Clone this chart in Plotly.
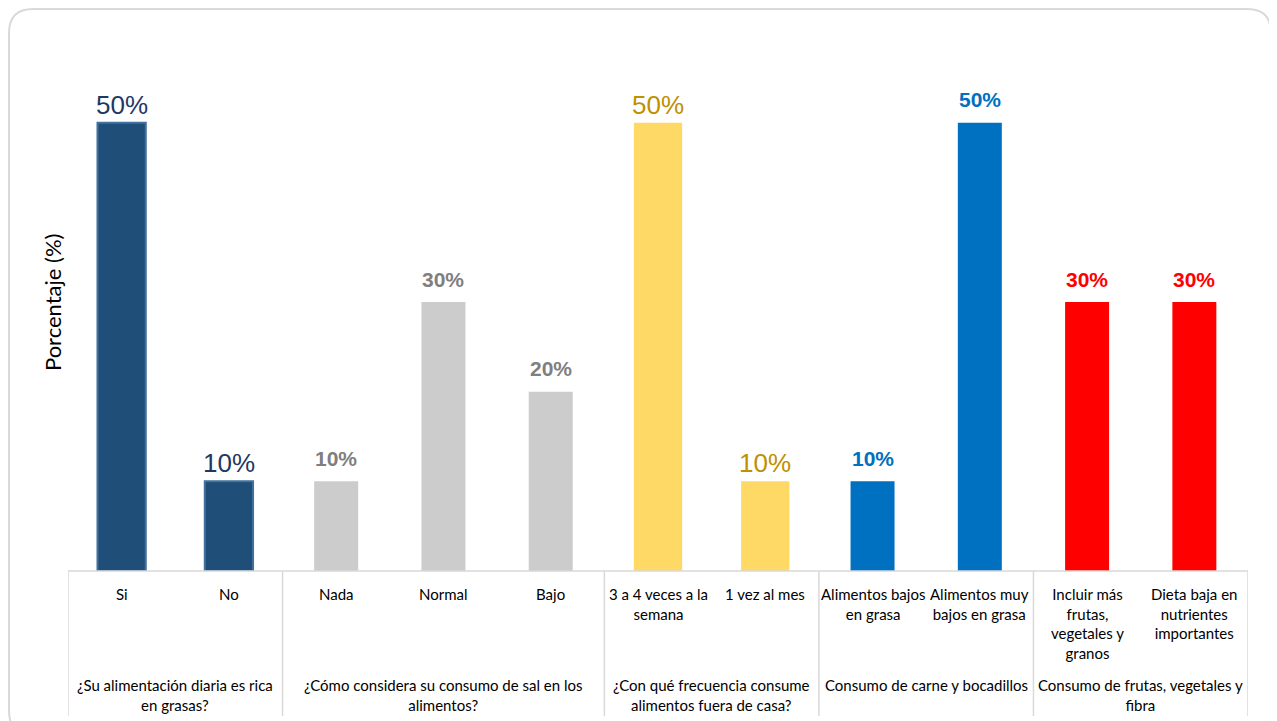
import plotly.graph_objects as go

# ---------------- data ----------------
q1_labels = ["Si", "No"]
q1_values = [50, 10]
q2_labels = ["Nada", "Normal", "Bajo"]
q2_values = [10, 30, 20]
q3_labels = ["3 a 4 veces a la<br>semana", "1 vez al mes"]
q3_values = [50, 10]
q4_labels = ["Alimentos bajos<br>en grasa", "Alimentos muy<br>bajos en grasa"]
q4_values = [10, 50]
q5_labels = ["Incluir más<br>frutas,<br>vegetales y<br>granos", "Dieta baja en<br>nutrientes<br>importantes"]
q5_values = [30, 30]

group_titles = [
    "¿Su alimentación diaria es rica<br>en grasas?",
    "¿Cómo considera su consumo de sal en los<br>alimentos?",
    "¿Con qué frecuencia consume<br>alimentos fuera de casa?",
    "Consumo de carne y bocadillos",
    "Consumo de frutas, vegetales y<br>fibra",
]
y_title = "Porcentaje (%)"

groups_labels = [q1_labels, q2_labels, q3_labels, q4_labels, q5_labels]
groups_values = [q1_values, q2_values, q3_values, q4_values, q5_values]
all_labels = [c for g in groups_labels for c in g]

# ---------------- layout geometry (page offset compensation for body margin) ----------------
OFF = 8
W, H = 1277 - OFF, 721 - OFF
ML, MR, MT, MB = 60, 29, 70, 150
PW, PH = W - ML - MR, H - MT - MB


def X(page_px):
    return (page_px - OFF - ML) / PW


def Y(page_py):
    return (H - MB - (page_py - OFF)) / PH


styles = [
    dict(color="#1F4E79", line="#41719C", lw=2, width=0.45, tcolor="#1F3864", tsize=26, bold=False, shift=18),
    dict(color="#CCCCCC", line="#CCCCCC", lw=0, width=0.41, tcolor="#7F7F7F", tsize=21, bold=True, shift=23),
    dict(color="#FFD966", line="#FFD966", lw=0, width=0.45, tcolor="#BF9000", tsize=26, bold=False, shift=18),
    dict(color="#0070C0", line="#0070C0", lw=0, width=0.41, tcolor="#0070C0", tsize=21, bold=True, shift=23),
    dict(color="#FF0000", line="#FF0000", lw=0, width=0.41, tcolor="#FF0000", tsize=21, bold=True, shift=23),
]

fig = go.Figure()
annotations = []
for labels, values, st in zip(groups_labels, groups_values, styles):
    fig.add_trace(go.Bar(
        x=labels, y=values,
        width=st["width"],
        marker=dict(color=st["color"], line=dict(color=st["line"], width=st["lw"])),
        hoverinfo="skip",
        showlegend=False,
    ))
    for c, v in zip(labels, values):
        annotations.append(dict(
            x=c, xref="x", y=v, yref="y", text=f"{v}%", showarrow=False,
            xanchor="center", yanchor="middle", yshift=st["shift"],
            font=dict(family="Arial", size=st["tsize"], color=st["tcolor"],
                      weight="bold" if st["bold"] else "normal"),
        ))

shapes = []
line_col = "#D9D9D9"
# outer rounded frame
x0, y0, x1, y1, r = 9, 9, 1271, 735, 24
path = (f"M {X(x0 + r)},{Y(y0)} L {X(x1 - r)},{Y(y0)} Q {X(x1)},{Y(y0)} {X(x1)},{Y(y0 + r)} "
        f"L {X(x1)},{Y(y1 - r)} Q {X(x1)},{Y(y1)} {X(x1 - r)},{Y(y1)} "
        f"L {X(x0 + r)},{Y(y1)} Q {X(x0)},{Y(y1)} {X(x0)},{Y(y1 - r)} "
        f"L {X(x0)},{Y(y0 + r)} Q {X(x0)},{Y(y0)} {X(x0 + r)},{Y(y0)} Z")
shapes.append(dict(type="path", path=path, xref="paper", yref="paper",
                   line=dict(color="#D9D9D9", width=2), layer="below"))
# table top line
shapes.append(dict(type="line", xref="paper", yref="paper", x0=0, x1=1, y0=0, y1=0,
                   line=dict(color=line_col, width=1.5)))
# table vertical separators
bounds = [-0.5]
pos = -0.5
for g in groups_labels:
    pos += len(g)
    bounds.append(pos)
for b in bounds:
    shapes.append(dict(type="line", xref="x", yref="paper", x0=b, x1=b, y0=0, y1=Y(716),
                       line=dict(color=line_col, width=1.5)))

lab_font = dict(family="Lato", size=15, color="#000000")
for c in all_labels:
    annotations.append(dict(x=c, xref="x", y=Y(583), yref="paper", text=c, showarrow=False,
                            yanchor="top", xanchor="center", align="center", font=lab_font))
start = -0.5
for g, t in zip(groups_labels, group_titles):
    center = start + len(g) / 2
    start += len(g)
    annotations.append(dict(x=center, xref="x", y=Y(674), yref="paper", text=t, showarrow=False,
                            yanchor="top", xanchor="center", align="center", font=lab_font))
annotations.append(dict(x=X(52), xref="paper", y=Y(303), yref="paper", text=y_title, textangle=-90,
                        showarrow=False, xanchor="center", yanchor="middle",
                        font=dict(family="Lato", size=22, color="#000000")))

fig.update_layout(
    width=W, height=H,
    margin=dict(l=ML, r=MR, t=MT, b=MB),
    paper_bgcolor="white", plot_bgcolor="white",
    barmode="overlay",
    xaxis=dict(type="category", categoryorder="array", categoryarray=all_labels,
               range=[-0.5, len(all_labels) - 0.5], showticklabels=False,
               showgrid=False, zeroline=False, showline=False, ticks=""),
    yaxis=dict(range=[0, 55], visible=False),
    shapes=shapes, annotations=annotations,
    font=dict(family="Lato"),
)

fig.write_html("out.html")
